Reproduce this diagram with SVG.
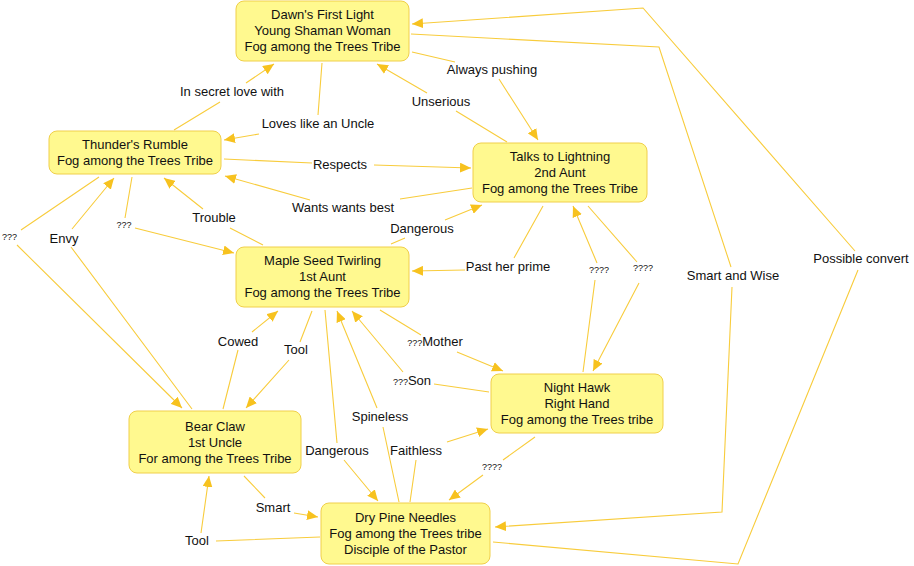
<svg xmlns="http://www.w3.org/2000/svg" width="914" height="566" viewBox="0 0 914 566">
<defs>
<marker id="arr" viewBox="0 0 10 9" refX="10" refY="4.5" markerWidth="11" markerHeight="10" markerUnits="userSpaceOnUse" orient="auto">
<path d="M0,0 L10,4.5 L0,9 z" fill="#F7C21F"/>
</marker>
<style>
.n rect{fill:#FFF98F;stroke:#F0CF4A;stroke-width:1}
.n text,.l text{font-family:"Liberation Sans",Arial,sans-serif;font-size:13px;fill:#111;text-anchor:middle}
.e path{fill:none;stroke:#F8CC3C;stroke-width:1.1;marker-end:url(#arr)}
.l .q{font-size:9px}
</style>
</defs>
<rect width="914" height="566" fill="#fff"/>
<g id="connectors" class="e">
<path d="M174,130 L220,102 M246,83 L274,64"/>
<path d="M322,63 L318,115 M259,134 L224,140"/>
<path d="M224,159 L312,163 M374,165 L471,168"/>
<path d="M472,188 L400,199 M310,200 L225,176"/>
<path d="M507,142 L456,111 M427,93 L377,64"/>
<path d="M412,52 L455,62 M499,79 L538,140"/>
<path d="M391,244 L405,238 M445,220 L482,205"/>
<path d="M543,206 L514,258 M465,270 L412,271"/>
<path d="M583,372 L595,280 M597,263 L573,206"/>
<path d="M588,206 L637,262 M639,283 L593,371"/>
<path d="M263,245 L230,228 M203,209 L164,178"/>
<path d="M132,177 L125,218 M135,228 L234,253"/>
<path d="M99,177 L21,230 M17,245 L182,408"/>
<path d="M192,409 L71,247 M72,229 L114,178"/>
<path d="M223,409 L238,350 M252,332 L278,311"/>
<path d="M312,311 L300,342 M289,360 L246,408"/>
<path d="M325,310 L337,443 M344,460 L378,501"/>
<path d="M399,502 L383,427 M377,408 L337,311"/>
<path d="M489,392 L434,384 M403,372 L352,311"/>
<path d="M380,310 L421,335 M457,352 L503,371"/>
<path d="M410,502 L416,460 M447,442 L488,429"/>
<path d="M535,437 L503,460 M483,475 L449,500"/>
<path d="M244,476 L265,498 M294,513 L318,517"/>
<path d="M320,537 L216,541 M201,533 L209,476"/>
<path d="M493,542 L738,564 L858,270 M855,251 L643,8 L412,24"/>
<path d="M411,34 L659,47 L731,267 M732,287 L722,512 L495,527"/>
</g>
<g id="node-dawn" class="n">
<rect x="236" y="1" width="173" height="60" rx="8"/>
<text x="322.5" y="19">Dawn's First Light</text>
<text x="322.5" y="35">Young Shaman Woman</text>
<text x="322.5" y="51">Fog among the Trees Tribe</text>
</g>
<g id="node-thunder" class="n">
<rect x="49" y="131" width="172" height="43" rx="8"/>
<text x="135" y="149">Thunder's Rumble</text>
<text x="135" y="165">Fog among the Trees Tribe</text>
</g>
<g id="node-talks" class="n">
<rect x="473" y="143" width="174" height="59" rx="8"/>
<text x="560" y="160.5">Talks to Lightning</text>
<text x="560" y="176.5">2nd Aunt</text>
<text x="560" y="193">Fog among the Trees Tribe</text>
</g>
<g id="node-maple" class="n">
<rect x="236" y="247" width="173" height="60" rx="8"/>
<text x="322.5" y="264.5">Maple Seed Twirling</text>
<text x="322.5" y="280.5">1st Aunt</text>
<text x="322.5" y="297">Fog among the Trees Tribe</text>
</g>
<g id="node-bear" class="n">
<rect x="129" y="411" width="172" height="62" rx="8"/>
<text x="215" y="430.5">Bear Claw</text>
<text x="215" y="446.5">1st Uncle</text>
<text x="215" y="462.5">For among the Trees Tribe</text>
</g>
<g id="node-nighthawk" class="n">
<rect x="491" y="374" width="172" height="59" rx="8"/>
<text x="577" y="391.5">Night Hawk</text>
<text x="577" y="407.5">Right Hand</text>
<text x="577" y="423.5">Fog among the Trees tribe</text>
</g>
<g id="node-drypine" class="n">
<rect x="321" y="503" width="169" height="61" rx="8"/>
<text x="405.5" y="521.5">Dry Pine Needles</text>
<text x="405.5" y="537.5">Fog among the Trees tribe</text>
<text x="405.5" y="553.5">Disciple of the Pastor</text>
</g>
<g id="labels" class="l">
<text x="232" y="95.5">In secret love with</text>
<text x="318" y="127.5">Loves like an Uncle</text>
<text x="340" y="168.5">Respects</text>
<text x="343" y="211.5">Wants wants best</text>
<text x="214" y="221.5">Trouble</text>
<text x="124" y="228" class="q">???</text>
<text x="9.5" y="240" class="q">???</text>
<text x="64" y="242.5">Envy</text>
<text x="422" y="232.5">Dangerous</text>
<text x="441" y="105.5">Unserious</text>
<text x="492" y="73.5">Always pushing</text>
<text x="508" y="270.5">Past her prime</text>
<text x="599" y="273" class="q">????</text>
<text x="643" y="271" class="q">????</text>
<text x="733" y="279.5">Smart and Wise</text>
<text x="861" y="262.5">Possible convert</text>
<text x="238" y="345.5">Cowed</text>
<text x="296" y="353.5">Tool</text>
<text x="435" y="345.5"><tspan class="q">???</tspan>Mother</text>
<text x="412" y="384.5"><tspan class="q">???</tspan>Son</text>
<text x="380" y="420.5">Spineless</text>
<text x="337" y="454.5">Dangerous</text>
<text x="416" y="454.5">Faithless</text>
<text x="492" y="470" class="q">????</text>
<text x="273" y="511.5">Smart</text>
<text x="197" y="544.5">Tool</text>
</g>
</svg>
